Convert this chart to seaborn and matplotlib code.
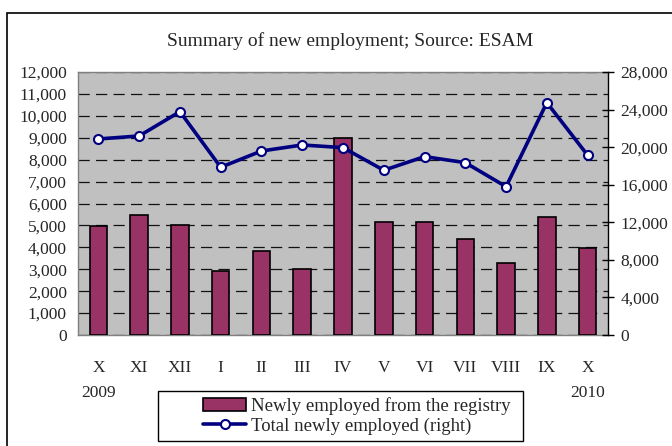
import numpy as np
import pandas as pd
import matplotlib
matplotlib.use("Agg")
import matplotlib.pyplot as plt
from matplotlib.patches import Patch, Rectangle
from matplotlib.lines import Line2D
import seaborn as sns

# ---- data ----
months = ["X\n2009", "XI", "XII", "I", "II", "III", "IV", "V", "VI", "VII", "VIII", "IX", "X\n2010"]
registry = [4960, 5490, 5020, 2900, 3850, 3030, 8990, 5150, 5150, 4390, 3300, 5370, 3980]
total = [20870, 21190, 23780, 17860, 19590, 20230, 19950, 17540, 18990, 18350, 15790, 24740, 19140]
left_ticks = list(range(0, 12001, 1000))
right_ticks = list(range(0, 28001, 4000))
title = "Summary of new employment; Source: ESAM"
bar_label = "Newly employed from the registry"
line_label = "Total newly employed (right)"

sns.set_theme(style="white")
plt.rcParams['font.family'] = ['Liberation Serif', 'DejaVu Serif']

df = pd.DataFrame({"month": months, "registry": registry, "total": total,
                   "pos": np.arange(len(months))})

fig = plt.figure(figsize=(6.72, 4.46), dpi=100)
ax = fig.add_axes([78/672, 1-335/446, (608-78)/672, (335-72)/446])
ax.set_facecolor("#C0C0C0")

bar_color = "#993366"
line_color = "#000080"

sns.barplot(data=df, x="month", y="registry", color=bar_color, width=0.43,
            saturation=1, edgecolor="black", linewidth=1.2, ax=ax, zorder=3)

ax.set_ylim(0, 12000)
ax.set_yticks(left_ticks)
ax.set_yticklabels([f"{v:,}" for v in left_ticks], fontsize=12.5)
ax.set_xlim(-0.5, len(months) - 0.5)
ax.set_xlabel("")
ax.set_ylabel("")
ax.yaxis.grid(True, color="#111111", linestyle=(0, (9, 5)), linewidth=0.9)
ax.set_axisbelow(True)
ax.tick_params(axis="y", length=0, pad=8)
ax.tick_params(axis="x", length=0, pad=18, labelsize=12.5)
for lbl in ax.get_xticklabels():
    lbl.set_linespacing(1.75)
for s in ["left", "top", "bottom"]:
    ax.spines[s].set_color("#808080")
    ax.spines[s].set_linewidth(1.0)
ax.spines["right"].set_visible(False)

ax2 = ax.twinx()
sns.lineplot(data=df, x="pos", y="total", color=line_color, linewidth=2.6,
             marker="o", markersize=6.5, markerfacecolor="white",
             markeredgecolor=line_color, markeredgewidth=1.5, ax=ax2, zorder=5)
ax2.set_ylim(0, 28000)
ax2.set_yticks(right_ticks)
ax2.set_yticklabels([f"{v:,}" for v in right_ticks], fontsize=12.5)
ax2.set_xlim(-0.5, len(months) - 0.5)
ax2.set_ylabel("")
ax2.set_xlabel("")
ax2.tick_params(axis="y", direction="inout", length=8, width=1, color="black", pad=5)
for s in ["left", "top", "bottom"]:
    ax2.spines[s].set_visible(False)
ax2.spines["right"].set_color("black")
ax2.spines["right"].set_linewidth(1.0)
ax2.grid(False)

fig.text(350/672, 1-41/446, title, ha="center", va="center", fontsize=14)

handles = [Patch(facecolor=bar_color, edgecolor="black", linewidth=1.2),
           Line2D([], [], color=line_color, linewidth=2.6, marker="o",
                  markersize=6.5, markerfacecolor="white",
                  markeredgecolor=line_color, markeredgewidth=1.5)]
leg = fig.legend(handles, [bar_label, line_label], loc="center left",
                 bbox_to_anchor=(203/672, 1-416/446), fontsize=13.5,
                 frameon=False, handlelength=2.3, handletextpad=0.25,
                 borderpad=0, labelspacing=0.1, borderaxespad=0)

# legend frame
fig.patches.append(Rectangle((158/672, 1-441/446), (523-158)/672, 50/446,
                             transform=fig.transFigure, fill=False,
                             edgecolor="black", linewidth=1.0, zorder=1))
# outer chart frame (cut at right and bottom)
fig.patches.append(Rectangle((7/672, -0.2), 1.2, 0.2 + 1-13/446,
                             transform=fig.transFigure, fill=False,
                             edgecolor="black", linewidth=1.2, zorder=0))

fig.savefig("out.png", dpi=100, facecolor="white")
